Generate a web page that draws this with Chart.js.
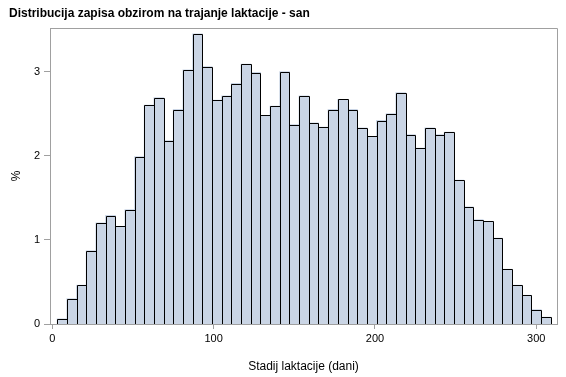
<!DOCTYPE html>
<html>
<head>
<meta charset="utf-8">
<script src="https://cdn.jsdelivr.net/npm/chart.js@4"></script>
<style>
  html,body{margin:0;padding:0;background:#fff;}
  #wrap{width:566px;height:377px;position:relative;}
</style>
</head>
<body>
<div id="wrap"><canvas id="hist"></canvas></div>
<script>
/* histogram: stadij laktacije, bins of 6 days (centres) */
const binCenters=[6,12,18,24,30,36,42,48,54,60,66,72,78,84,90,96,102,108,114,120,
  126,132,138,144,150,156,162,168,174,180,186,192,198,204,210,216,222,228,234,240,
  246,252,258,264,270,276,282,288,294,300,306];
const percent=[0.06,0.30,0.46,0.87,1.20,1.29,1.16,1.36,1.99,2.60,2.69,2.18,2.55,3.02,3.45,3.06,2.66,2.71,2.86,3.09,
  2.99,2.48,2.59,3.00,2.37,2.71,2.39,2.34,2.55,2.67,2.55,2.33,2.23,2.42,2.50,2.75,2.25,2.09,2.33,2.25,
  2.28,1.71,1.39,1.24,1.22,1.02,0.65,0.46,0.34,0.17,0.08];
const xTicks=[0,100,200,300];
const yTicks=[0,1,2,3];

const AXIS='#a0a0a0';
const FONT="'Liberation Sans', Arial, sans-serif";

// crisp 1px outlines on the bars (snapped to whole pixels, shared edges drawn once)
const outlines={
  id:'outlines',
  afterDatasetsDraw(chart){
    const {ctx}=chart;
    const bars=chart.getDatasetMeta(0).data;
    ctx.save();
    ctx.strokeStyle='#000'; ctx.lineWidth=1;
    ctx.beginPath();
    bars.forEach(b=>{
      const l=Math.round(b.x-b.width/2)+0.5, r=Math.round(b.x+b.width/2)+0.5;
      const t=Math.round(b.y)+0.5, btm=Math.round(b.base);
      ctx.moveTo(l,btm); ctx.lineTo(l,t); ctx.lineTo(r,t); ctx.lineTo(r,btm);
    });
    ctx.stroke();
    ctx.restore();
  }
};

// top + right edge of the plot frame
const frame={
  id:'frame',
  afterDraw(chart){
    const {ctx,chartArea:a}=chart;
    ctx.save();
    ctx.strokeStyle=AXIS; ctx.lineWidth=1;
    ctx.beginPath();
    ctx.moveTo(Math.round(a.left)+0.5,Math.round(a.top)+0.5);
    ctx.lineTo(Math.round(a.right)+0.5,Math.round(a.top)+0.5);
    ctx.lineTo(Math.round(a.right)+0.5,Math.round(a.bottom)+0.5);
    ctx.stroke();
    ctx.restore();
  }
};

new Chart(document.getElementById('hist'),{
  type:'bar',
  data:{datasets:[{
    data:binCenters.map((x,i)=>({x,y:percent[i]})),
    backgroundColor:'#cad5e5',
    borderWidth:0,
    inflateAmount:0.5,
    barPercentage:1,categoryPercentage:1
  }]},
  options:{
    responsive:true,maintainAspectRatio:false,animation:false,
    layout:{padding:{left:9,right:9,top:0,bottom:0}},
    plugins:{
      legend:{display:false},tooltip:{enabled:false},
      title:{display:true,align:'start',text:'Distribucija zapisa obzirom na trajanje laktacije - san',
        color:'#000',font:{family:FONT,size:12,weight:'bold'},padding:{top:6,bottom:7.6}}
    },
    scales:{
      x:{type:'linear',min:-1.5,max:312.9,offset:false,
        afterBuildTicks:s=>{s.ticks=xTicks.map(v=>({value:v}));},
        afterFit:s=>{s.height=53;},
        grid:{offset:false,drawOnChartArea:false,drawTicks:true,tickLength:5,color:AXIS},
        border:{color:AXIS,width:1},
        ticks:{color:'#000',font:{family:FONT,size:11},padding:3,maxRotation:0},
        title:{display:true,text:'Stadij laktacije (dani)',color:'#000',
          font:{family:FONT,size:12},padding:{top:0,bottom:3}}
      },
      y:{min:0,max:3.52,
        afterBuildTicks:s=>{s.ticks=yTicks.map(v=>({value:v}));},
        afterFit:s=>{s.width=41;},
        grid:{drawOnChartArea:false,drawTicks:true,tickLength:6,color:AXIS},
        border:{color:AXIS,width:1},
        ticks:{color:'#000',font:{family:FONT,size:11},padding:4},
        title:{display:true,text:'%',color:'#000',font:{family:FONT,size:12},padding:{top:0,bottom:0}}
      }
    }
  },
  plugins:[outlines,frame]
});
</script>
</body>
</html>
